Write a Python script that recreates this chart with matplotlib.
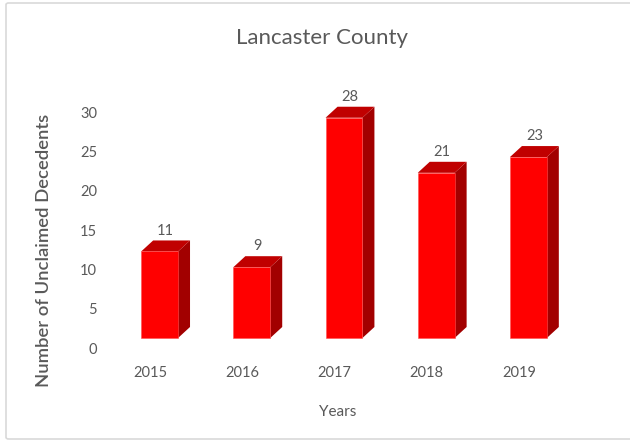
import numpy as np
import matplotlib.pyplot as plt
from matplotlib.patches import Polygon, FancyBboxPatch

# bar chart data
years = ['2015', '2016', '2017', '2018', '2019']
decedents = [11, 9, 28, 21, 23]

# 3d look of the columns (in data units)
shift = 0.103      # front face sits a bit right of the tick
barWidth = 0.40
floor = 1.27       # front face starts above the wall floor
depthX = 0.13
depthY = 1.40

frontColor = '#FF0000'
topColor = '#C00000'
sideColor = '#A20000'
textColor = '#595959'

plt.rcParams['font.family'] = ['Lato', 'DejaVu Sans']

fig = plt.figure(figsize=(6.3, 4.41), dpi=100)
ax = fig.add_axes([104 / 630, 93 / 441, 461 / 630, 236 / 441])

# light frame round the whole chart
frame = FancyBboxPatch((6 / 630, 2 / 441), 700 / 630, 436 / 441,
                       boxstyle='round,pad=0,rounding_size=0.004',
                       transform=fig.transFigure, fill=False,
                       edgecolor='#D9D9D9', linewidth=1.2)
fig.patches.append(frame)

for i, val in enumerate(decedents):
    x0 = i + shift - barWidth / 2
    x1 = x0 + barWidth
    y0 = floor
    y1 = floor + val
    front = Polygon([(x0, y0), (x1, y0), (x1, y1), (x0, y1)],
                    facecolor=frontColor, edgecolor='#FF5050', linewidth=0.4, clip_on=False)
    side = Polygon([(x1, y0), (x1 + depthX, y0 + depthY), (x1 + depthX, y1 + depthY), (x1, y1)],
                   facecolor=sideColor, edgecolor='none', clip_on=False)
    top = Polygon([(x0, y1), (x0 + depthX, y1 + depthY), (x1 + depthX, y1 + depthY), (x1, y1)],
                  facecolor=topColor, edgecolor='none', clip_on=False)
    ax.add_patch(side)
    ax.add_patch(top)
    ax.add_patch(front)
    ax.text((x0 + x1 + depthX) / 2, y1 + depthY + 0.35, str(val), ha='center', va='bottom',
            fontsize=10.5, color=textColor, clip_on=False)

ax.set_xlim(-0.5, 4.5)
ax.set_ylim(0, 30)
ax.set_xticks(np.arange(len(years)))
ax.set_xticklabels(years)
ax.set_yticks(np.arange(0, 31, 5))
ax.tick_params(length=0, labelsize=10.5, labelcolor=textColor)
ax.tick_params(axis='x', pad=13)
ax.tick_params(axis='y', pad=5)
for s in ax.spines.values():
    s.set_visible(False)

fig.text(322 / 630, 1 - 38 / 441, 'Lancaster County', ha='center', va='center',
         fontsize=16, color=textColor)
fig.text(338 / 630, 1 - 412 / 441, 'Years', ha='center', va='center',
         fontsize=11, color=textColor)
fig.text(44 / 630, 1 - 250 / 441, 'Number of Unclaimed Decedents', ha='center', va='center',
         rotation=90, fontsize=13.3, color=textColor, fontweight='semibold')

plt.savefig('out.png', dpi=100)
